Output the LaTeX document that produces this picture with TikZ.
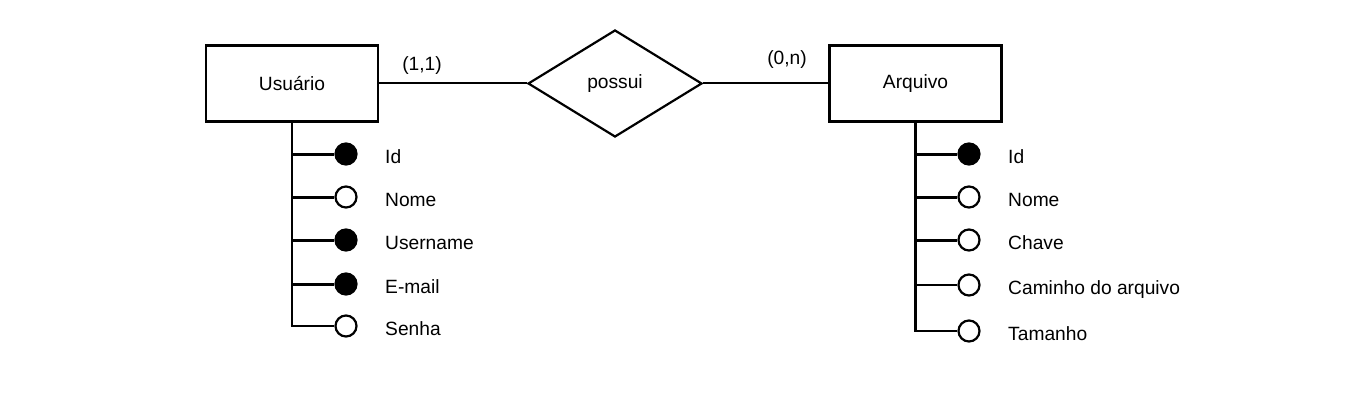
\documentclass[tikz,border=0pt]{standalone}
\usepackage{fontspec}
\setmainfont{Liberation Sans}
\usetikzlibrary{shapes.geometric}
\begin{document}
\begin{tikzpicture}[x=1pt,y=-1pt,
  txt/.style={font=\fontsize{19.2}{23}\selectfont},
  ent/.style={draw,line width=2.2pt,minimum width=172pt,minimum height=76pt,inner sep=0pt,txt},
  rel/.style={draw,diamond,line width=2.2pt,minimum width=174pt,minimum height=107pt,inner sep=0pt,txt},
  link/.style={line width=2pt},
  trunk/.style={line width=2.2pt},
  rowthick/.style={line width=3pt},
  rowthin/.style={line width=2.2pt},
  keyattr/.style={circle,draw,fill=black,line width=2.2pt,minimum size=21pt,inner sep=0pt},
  plainattr/.style={circle,draw,fill=white,line width=2.2pt,minimum size=21pt,inner sep=0pt},
  attrlabel/.style={txt,anchor=base west,inner sep=0pt},
  card/.style={txt,inner sep=0pt}]
\useasboundingbox[fill=white] (0,0) rectangle (1365,401);
% entities and relationship
\node[ent] (usr) at (292,83.5) {Usuário};
\node[ent] (arq) at (915.5,83.5) {Arquivo};
\node[rel] (pos) at (615,83.5) {possui};
\draw[link] (usr.east) -- (pos.west);
\draw[link] (pos.east) -- (arq.east -| arq.west);
\node[card] (c11) at (422,66) {(1,1)};
\node[card] (c0n) at (787,60) {(0,n)};
% Usuario attributes
\coordinate (u1) at (292,154);
\coordinate (u2) at (292,197);
\coordinate (u3) at (292,240);
\coordinate (u4) at (292,284);
\coordinate (u5) at (292,326);
\node[keyattr] (ua1) at (346,154) {};
\node[plainattr] (ua2) at (346,197) {};
\node[keyattr] (ua3) at (346,240) {};
\node[keyattr] (ua4) at (346,284) {};
\node[plainattr] (ua5) at (346,326) {};
\draw[trunk] (usr.south) -- (u5);
\draw[rowthick] (u1) -- (ua1.west);
\draw[rowthick] (u2) -- (ua2.west);
\draw[rowthick] (u3) -- (ua3.west);
\draw[rowthick] (u4) -- (ua4.west);
\draw[rowthin] ([xshift=-1.1pt]u5) -- (ua5.west);
\node[attrlabel] (ul1) at (385,163) {Id};
\node[attrlabel] (ul2) at (385,206) {Nome};
\node[attrlabel] (ul3) at (385,249) {Username};
\node[attrlabel] (ul4) at (385,293) {E-mail};
\node[attrlabel] (ul5) at (385,335) {Senha};
% Arquivo attributes
\coordinate (a1) at (915.5,154);
\coordinate (a2) at (915.5,197);
\coordinate (a3) at (915.5,240);
\coordinate (a4) at (915.5,285);
\coordinate (a5) at (915.5,331);
\node[keyattr] (aa1) at (969,154) {};
\node[plainattr] (aa2) at (969,197) {};
\node[plainattr] (aa3) at (969,240) {};
\node[plainattr] (aa4) at (969,285) {};
\node[plainattr] (aa5) at (969,331) {};
\draw[trunk] (arq.south) -- (a5);
\draw[rowthick] (a1) -- (aa1.west);
\draw[rowthick] (a2) -- (aa2.west);
\draw[rowthick] (a3) -- (aa3.west);
\draw[rowthin] (a4) -- (aa4.west);
\draw[rowthin] ([xshift=-1.1pt]a5) -- (aa5.west);
\node[attrlabel] (al1) at (1008,163) {Id};
\node[attrlabel] (al2) at (1008,206) {Nome};
\node[attrlabel] (al3) at (1008,249) {Chave};
\node[attrlabel] (al4) at (1008,294) {Caminho do arquivo};
\node[attrlabel] (al5) at (1008,340) {Tamanho};
\end{tikzpicture}
\end{document}
